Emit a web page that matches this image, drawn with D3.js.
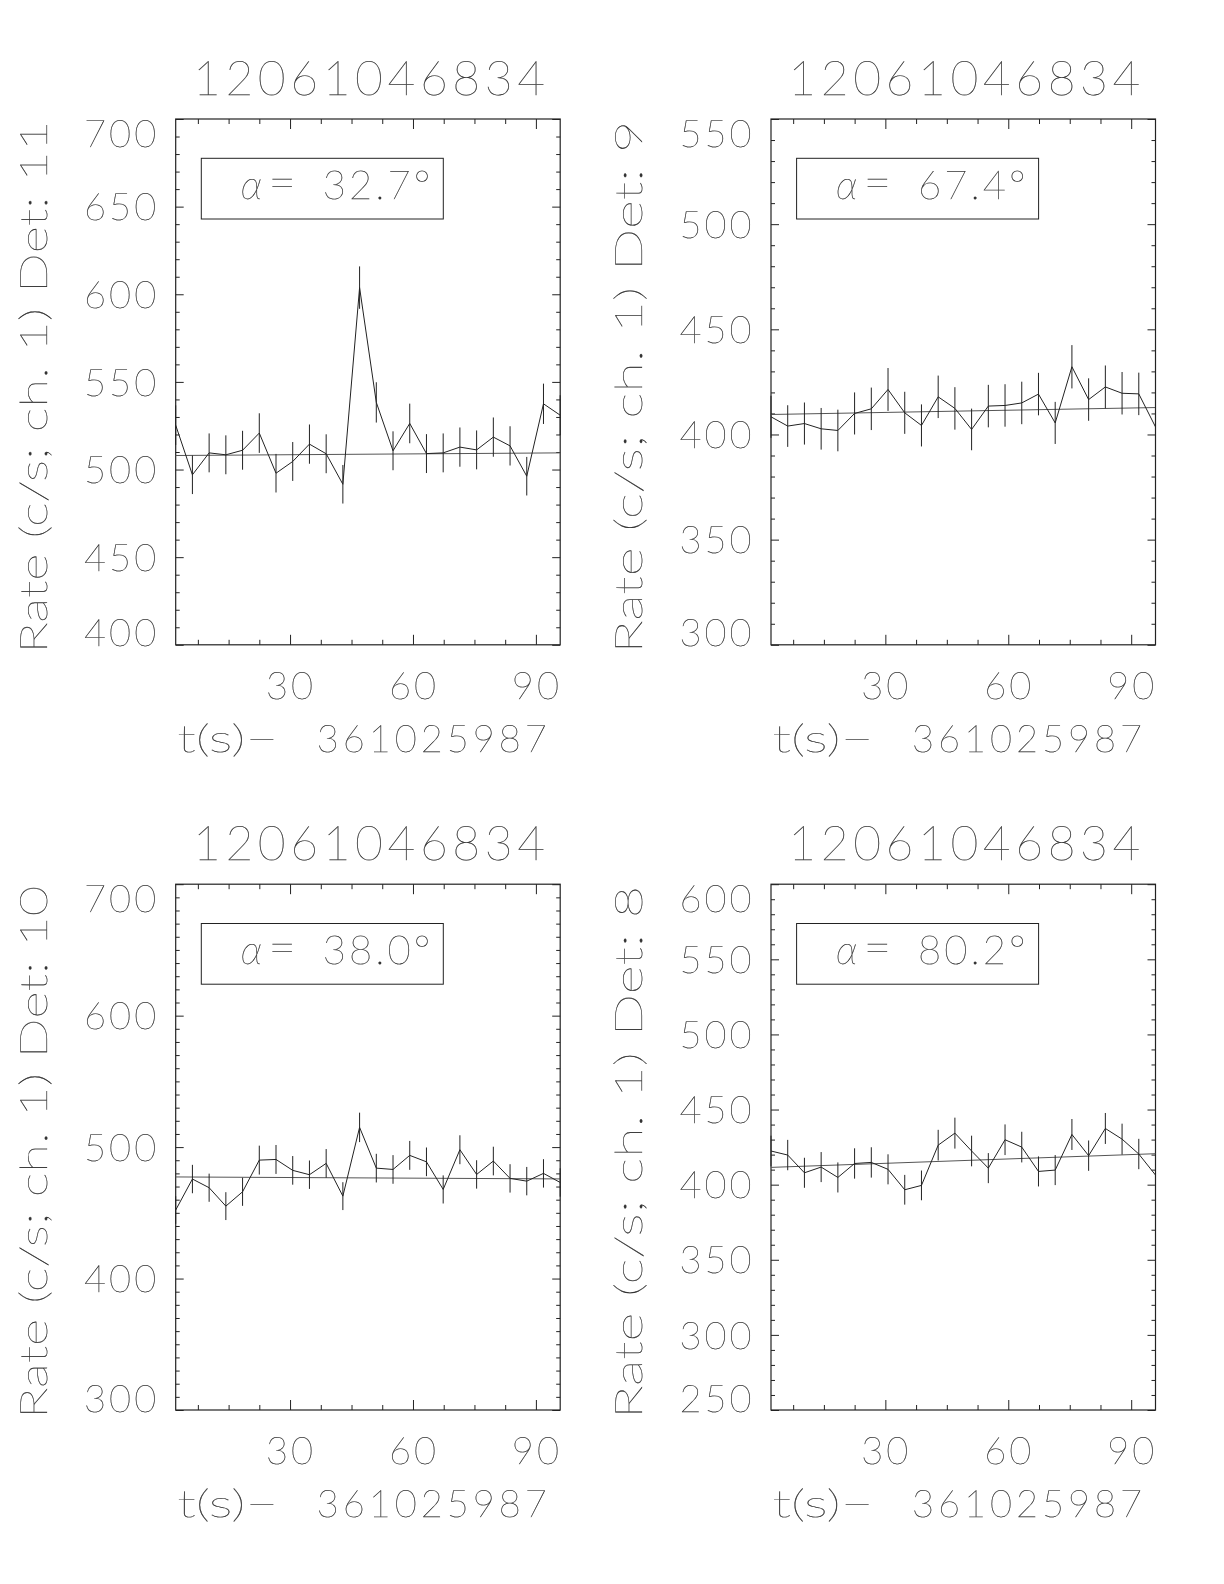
<!DOCTYPE html>
<html><head><meta charset="utf-8">
<script src="https://cdn.jsdelivr.net/npm/d3@7"></script>
<style>
html,body{margin:0;padding:0;background:#fff;}
svg{will-change:transform;}
text{font-family:"Lato",sans-serif;font-weight:200;fill:#333;stroke:#333;stroke-width:0.25;white-space:pre;text-rendering:geometricPrecision;}
</style></head>
<body><svg id="chart" width="1224" height="1584"></svg>
<script>
// ---- data ----
const titleText = "12061046834";
const xLabelLeft = "t(s)\u2212";
const xLabelRight = "361025987";
const times = [2.09, 6.17, 10.25, 14.33, 18.41, 22.49, 26.57, 30.65, 34.73, 38.81, 42.89, 46.97,
               51.05, 55.13, 59.21, 63.29, 67.37, 71.45, 75.53, 79.61, 83.69, 87.77, 91.85, 95.93];
const xMajorTicks = [30, 60, 90];
const xMinorTicks = [7.5, 15, 22.5, 37.5, 45, 52.5, 67.5, 75, 82.5];

const detectors = ["11", "9", "10", "8"];
const alphaAngles = ["32.7", "67.4", "38.0", "80.2"];

const rateDet11 = [525.3, 497.0, 509.5, 508.4, 511.0, 520.8, 497.9, 504.6, 514.5, 509.0, 491.6, 603.8,
                   538.3, 510.7, 526.3, 509.1, 509.5, 512.8, 511.2, 518.5, 513.5, 496.2, 537.5, 531.0];
const errDet11  = [11.3, 11.0, 11.1, 11.1, 11.1, 11.3, 11.0, 11.1, 11.2, 11.1, 11.0, 12.1,
                   11.5, 11.1, 11.3, 11.1, 11.1, 11.2, 11.1, 11.2, 11.2, 11.0, 11.5, 11.4];
const fitDet11  = [508.0, 509.5];

const rateDet9 = [408.4, 404.0, 405.2, 402.7, 401.9, 410.0, 412.2, 421.4, 410.3, 404.3, 417.9, 412.4,
                  402.4, 413.5, 413.8, 415.0, 419.2, 405.5, 432.2, 416.6, 422.6, 419.6, 419.3, 403.6];
const errDet9  = [10.0, 9.9, 10.0, 9.9, 9.9, 10.0, 10.1, 10.2, 10.0, 10.0, 10.1, 10.1,
                  9.9, 10.1, 10.1, 10.1, 10.1, 10.0, 10.3, 10.1, 10.2, 10.1, 10.1, 9.9];
const fitDet9  = [409.5, 412.8];

const rateDet10 = [452.1, 475.7, 469.1, 455.1, 466.0, 490.1, 490.6, 482.3, 479.0, 487.6, 462.7, 515.0,
                   484.0, 483.0, 493.7, 488.8, 467.8, 498.0, 479.2, 489.4, 476.2, 474.1, 480.0, 473.1];
const errDet10  = [10.5, 10.8, 10.7, 10.6, 10.7, 11.0, 11.0, 10.9, 10.8, 10.9, 10.6, 11.2,
                   10.9, 10.9, 11.0, 10.9, 10.7, 11.0, 10.8, 10.9, 10.8, 10.8, 10.8, 10.8];
const fitDet10  = [477.3, 475.8];

const rateDet8 = [422.4, 419.7, 407.9, 411.7, 404.8, 414.1, 414.8, 410.2, 396.6, 399.5, 426.3, 434.3,
                  422.4, 411.0, 429.9, 425.0, 408.8, 409.7, 433.4, 419.3, 437.4, 430.3, 420.4, 406.4];
const errDet8  = [10.2, 10.1, 10.0, 10.0, 10.0, 10.1, 10.1, 10.0, 9.9, 9.9, 10.2, 10.3,
                  10.2, 10.0, 10.2, 10.2, 10.0, 10.0, 10.3, 10.1, 10.3, 10.3, 10.1, 10.0];
const fitDet8  = [411.5, 420.6];

const yDomains = [[400, 700], [300, 550], [300, 700], [250, 600]];
const yMajorSteps = [50, 50, 100, 50];
const yMinorSteps = [10, 10, 10, 10];

const rates = [rateDet11, rateDet9, rateDet10, rateDet8];
const errs = [errDet11, errDet9, errDet10, errDet8];
const fits = [fitDet11, fitDet9, fitDet10, fitDet8];

// ---- layout ----
const W = 384.5, H = 525.8;
const origins = [[175.7, 119], [771, 119], [175.7, 884.2], [771, 884.2]];
const ink = "#222";

const svg = d3.select("#chart");

function range(a, b, s) { const r = []; for (let v = a; v <= b + 1e-9; v += s) r.push(+v.toFixed(6)); return r; }

for (let p = 0; p < 4; p++) {
  const [ox, oy] = origins[p];
  const g = svg.append("g").attr("transform", `translate(${ox},${oy})`);
  const x = d3.scaleLinear().domain([times[0], times[times.length - 1]]).range([0, W]);
  const y = d3.scaleLinear().domain(yDomains[p]).range([H, 0]);

  const yMaj = range(yDomains[p][0], yDomains[p][1], yMajorSteps[p]);
  const yMin = range(yDomains[p][0], yDomains[p][1], yMinorSteps[p]).filter(v => !yMaj.includes(v));

  const styleAxis = sel => { sel.select(".domain").remove(); sel.selectAll("line").attr("stroke", ink).attr("stroke-width", 1); sel.selectAll("text").remove(); };

  // x ticks bottom / top (inward)
  g.append("g").attr("transform", `translate(0,${H})`)
    .call(d3.axisBottom(x).tickValues(xMajorTicks).tickSize(-10).tickFormat("")).call(styleAxis);
  g.append("g").attr("transform", `translate(0,${H})`)
    .call(d3.axisBottom(x).tickValues(xMinorTicks).tickSize(-5).tickFormat("")).call(styleAxis);
  g.append("g")
    .call(d3.axisTop(x).tickValues(xMajorTicks).tickSize(-10).tickFormat("")).call(styleAxis);
  g.append("g")
    .call(d3.axisTop(x).tickValues(xMinorTicks).tickSize(-5).tickFormat("")).call(styleAxis);
  // y ticks left / right (inward)
  g.append("g").call(d3.axisLeft(y).tickValues(yMaj).tickSize(-8).tickFormat("")).call(styleAxis);
  g.append("g").call(d3.axisLeft(y).tickValues(yMin).tickSize(-4).tickFormat("")).call(styleAxis);
  g.append("g").attr("transform", `translate(${W},0)`)
    .call(d3.axisRight(y).tickValues(yMaj).tickSize(-8).tickFormat("")).call(styleAxis);
  g.append("g").attr("transform", `translate(${W},0)`)
    .call(d3.axisRight(y).tickValues(yMin).tickSize(-4).tickFormat("")).call(styleAxis);

  // frame
  g.append("rect").attr("x", 0).attr("y", 0).attr("width", W).attr("height", H)
    .attr("fill", "none").attr("stroke", ink).attr("stroke-width", 1.2);

  // y tick labels
  g.selectAll(".ylab").data(yMaj).join("text")
    .attr("x", -16.5)
    .attr("y", (d, i) => y(d) + (i === 0 ? -12 : (i === yMaj.length - 1 ? 14 : 0)))
    .attr("dy", "0.36em").attr("text-anchor", "end")
    .attr("font-size", 38).attr("letter-spacing", 3)
    .text(d => d);

  // x tick labels
  g.selectAll(".xlab").data(xMajorTicks).join("text")
    .attr("x", d => x(d) + 1).attr("y", H + 54)
    .attr("text-anchor", "middle").attr("font-size", 38).attr("letter-spacing", 3)
    .text(d => d);

  // title
  g.append("text").attr("x", 17.3).attr("y", -24)
    .attr("font-size", 48).attr("textLength", 352).attr("lengthAdjust", "spacing").text(titleText);

  // x label
  g.append("text").attr("x", 1.5).attr("y", H + 107)
    .attr("font-size", 38).attr("textLength", 101).attr("lengthAdjust", "spacingAndGlyphs").text(xLabelLeft);
  g.append("text").attr("x", 141).attr("y", H + 107)
    .attr("font-size", 38).attr("textLength", 230).attr("lengthAdjust", "spacing").text(xLabelRight);

  // y label
  g.append("text").attr("transform", `translate(-129,${Math.round(H / 2 + 5)}) rotate(-90)`)
    .attr("text-anchor", "middle").attr("font-size", 38)
    .attr("textLength", 533).attr("lengthAdjust", "spacingAndGlyphs")
    .text(`Rate (c/s; ch. 1) Det: ${detectors[p]}`);

  // alpha box
  const bx = 25.6, by = 39.3, bw = 242, bh = 60.7;
  g.append("rect").attr("x", bx).attr("y", by).attr("width", bw).attr("height", bh)
    .attr("fill", "none").attr("stroke", ink).attr("stroke-width", 1);
  const at = g.append("text").attr("y", by + 41).attr("font-size", 40);
  at.append("tspan").attr("x", bx + 39.5).attr("font-style", "italic").text("\u03b1");
  at.append("tspan").attr("x", bx + 67).attr("font-size", 48).text("=");
  at.append("tspan").attr("x", bx + 121.5).attr("letter-spacing", 3).text(alphaAngles[p] + "\u00b0");

  // fit line
  g.append("line")
    .attr("x1", x(times[0])).attr("y1", y(fits[p][0]))
    .attr("x2", x(times[times.length - 1])).attr("y2", y(fits[p][1]))
    .attr("stroke", "#555").attr("stroke-width", 1);

  // error bars
  const pts = times.map((t, i) => ({ t, v: rates[p][i], e: errs[p][i] }));
  g.selectAll(".err").data(pts).join("line")
    .attr("x1", d => x(d.t)).attr("x2", d => x(d.t))
    .attr("y1", d => y(d.v - d.e)).attr("y2", d => y(d.v + d.e))
    .attr("stroke", ink).attr("stroke-width", 1);

  // data line
  g.append("path").datum(pts)
    .attr("d", d3.line().x(d => x(d.t)).y(d => y(d.v)))
    .attr("fill", "none").attr("stroke", ink).attr("stroke-width", 1);
}
</script></body></html>
